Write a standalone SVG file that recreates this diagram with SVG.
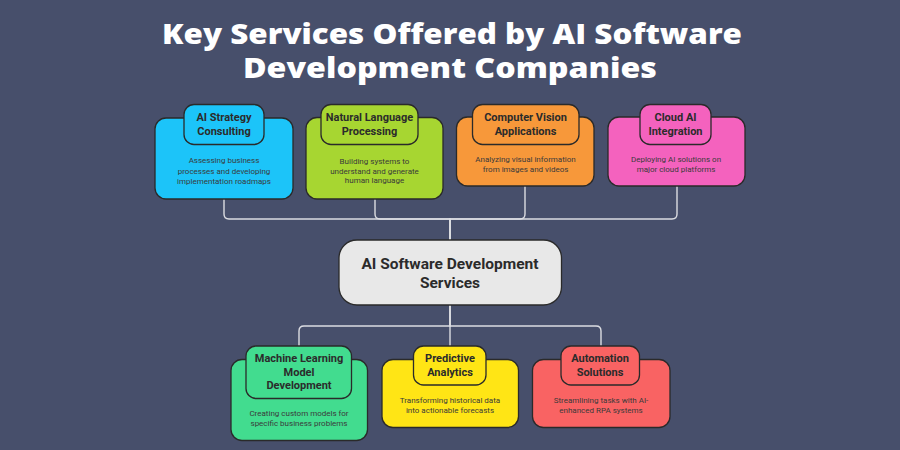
<svg xmlns="http://www.w3.org/2000/svg" width="900" height="450" viewBox="0 0 900 450">
<style>
.bg{fill:#474f6b}
.title{font-family:"Open Sans","Liberation Sans",sans-serif;font-weight:800;font-size:29px;fill:#ffffff;text-anchor:middle}
.card{stroke:#2a2a2a;stroke-width:1.3}
.tab{stroke:#2a2a2a;stroke-width:1.3}
.tt{font-family:Roboto,"Liberation Sans",sans-serif;font-weight:700;font-size:11px;fill:#2b2b2b;text-anchor:middle}
.bt{font-family:Roboto,"Liberation Sans",sans-serif;font-size:8px;fill:#3a3a3a;text-anchor:middle}
.ct{font-family:Roboto,"Liberation Sans",sans-serif;font-weight:700;font-size:15.5px;fill:#2b2b2b;text-anchor:middle}
.conn{fill:none;stroke:#dcdde2;stroke-width:1.4}
</style>
<rect class="bg" x="0" y="0" width="900" height="450"/>
<g id="title">
<text class="title" x="452" y="44" textLength="580" lengthAdjust="spacingAndGlyphs">Key Services Offered by AI Software</text>
<text class="title" x="450" y="78" textLength="414" lengthAdjust="spacingAndGlyphs">Development Companies</text>
</g>
<g id="connectors">
<path class="conn" d="M450,240 V219 H229 Q224,219 224,214 V199"/>
<path class="conn" d="M450,240 V219 H380 Q375,219 375,214 V199"/>
<path class="conn" d="M450,240 V219 H520 Q525,219 525,214 V186"/>
<path class="conn" d="M450,240 V219 H672 Q677,219 677,214 V186"/>
<path class="conn" d="M450,305 V326 H304 Q299,326 299,331 V346"/>
<path class="conn" d="M450,305 V346"/>
<path class="conn" d="M450,305 V326 H596 Q601,326 601,331 V346"/>
</g>
<g id="node-strategy">
<rect class="card" x="155" y="118" width="138" height="81" rx="11" fill="#1cc4f9"/>
<rect class="tab" x="184" y="104.5" width="80" height="40" rx="10" fill="#1cc4f9"/>
<text class="tt" x="224" y="121">AI Strategy</text>
<text class="tt" x="224" y="135">Consulting</text>
<text class="bt" x="224" y="163">Assessing business</text>
<text class="bt" x="224" y="173.5">processes and developing</text>
<text class="bt" x="224" y="183.5">implementation roadmaps</text>
</g>
<g id="node-nlp">
<rect class="card" x="306" y="117.5" width="137" height="81.5" rx="11" fill="#a7d631"/>
<rect class="tab" x="321" y="104.5" width="97" height="40" rx="10" fill="#a7d631"/>
<text class="tt" x="369.5" y="121">Natural Language</text>
<text class="tt" x="369.5" y="135">Processing</text>
<text class="bt" x="374.5" y="163.5">Building systems to</text>
<text class="bt" x="374.5" y="173.5">understand and generate</text>
<text class="bt" x="374.5" y="183">human language</text>
</g>
<g id="node-vision">
<rect class="card" x="456.5" y="117" width="137.5" height="69" rx="11" fill="#f7983a"/>
<rect class="tab" x="472.5" y="104.5" width="106.5" height="40" rx="10" fill="#f7983a"/>
<text class="tt" x="525.5" y="121">Computer Vision</text>
<text class="tt" x="525.5" y="135">Applications</text>
<text class="bt" x="525.5" y="162">Analyzing visual information</text>
<text class="bt" x="525.5" y="172">from images and videos</text>
</g>
<g id="node-cloud">
<rect class="card" x="608" y="117" width="137" height="69" rx="11" fill="#f462be"/>
<rect class="tab" x="640" y="104.5" width="71" height="40" rx="10" fill="#f462be"/>
<text class="tt" x="675.5" y="121">Cloud AI</text>
<text class="tt" x="675.5" y="135">Integration</text>
<text class="bt" x="676" y="162">Deploying AI solutions on</text>
<text class="bt" x="676" y="172">major cloud platforms</text>
</g>
<g id="node-center">
<rect x="339" y="240" width="222.5" height="65" rx="18" fill="#e8e8e8" stroke="#2a2a2a" stroke-width="1.3"/>
<text class="ct" x="450" y="268.5">AI Software Development</text>
<text class="ct" x="450" y="288">Services</text>
</g>
<g id="node-ml">
<rect class="card" x="231" y="359.5" width="136.5" height="81" rx="11" fill="#42dc8f"/>
<rect class="tab" x="246" y="346" width="105.5" height="52.5" rx="10" fill="#42dc8f"/>
<text class="tt" x="299" y="362">Machine Learning</text>
<text class="tt" x="299" y="376">Model</text>
<text class="tt" x="299" y="389">Development</text>
<text class="bt" x="299" y="416">Creating custom models for</text>
<text class="bt" x="299" y="426">specific business problems</text>
</g>
<g id="node-predictive">
<rect class="card" x="382" y="359.5" width="136.5" height="68" rx="11" fill="#ffe515"/>
<rect class="tab" x="413.5" y="346" width="72.5" height="39" rx="10" fill="#ffe515"/>
<text class="tt" x="450" y="362">Predictive</text>
<text class="tt" x="450" y="376">Analytics</text>
<text class="bt" x="450" y="403">Transforming historical data</text>
<text class="bt" x="450" y="413">into actionable forecasts</text>
</g>
<g id="node-automation">
<rect class="card" x="532.5" y="359.5" width="137.5" height="68" rx="11" fill="#f96363"/>
<rect class="tab" x="561" y="346" width="78.5" height="39" rx="10" fill="#f96363"/>
<text class="tt" x="600" y="362">Automation</text>
<text class="tt" x="600" y="376">Solutions</text>
<text class="bt" x="601" y="403">Streamlining tasks with AI-</text>
<text class="bt" x="601" y="413">enhanced RPA systems</text>
</g>
</svg>
